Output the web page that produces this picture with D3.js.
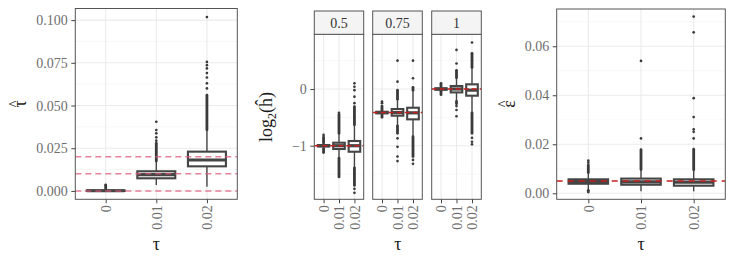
<!DOCTYPE html>
<html>
<head>
<meta charset="utf-8">
<script src="https://cdn.jsdelivr.net/npm/d3@7/dist/d3.min.js"></script>
<style>
  body { margin: 0; background: #fff; }
  text { font-family: "Liberation Serif", "DejaVu Serif", serif; }
</style>
</head>
<body>
<script>
// x categories (true tau)
const tauLevels = ['0', '0.01', '0.02'];

// left panel: tau hat
const tauTrue = [0, 0.01, 0.02];
const tauQ1 = [0, 0.0074, 0.0144];
const tauMed = [0.0001, 0.0095, 0.0181];
const tauQ3 = [0.0003, 0.0115, 0.023];
const tauLo = [0, 0.0035, 0.0025];
const tauHi = [0.0008, 0.0175, 0.0358];
const tauDense = [[[0.0008, 0.0032]], [[0.0175, 0.0279]], [[0.0358, 0.056]]];
const tauOut = [[0.0035], [0.0294, 0.0314, 0.0337, 0.0356, 0.0405],
                [0.060, 0.063, 0.0664, 0.069, 0.0717, 0.0736, 0.0755, 0.1018]];
const tauTicks = [0, 0.025, 0.05, 0.075, 0.1];
const tauTickLabels = ['0.000', '0.025', '0.050', '0.075', '0.100'];
const tauMinor = [0.0125, 0.0375, 0.0625, 0.0875];

// middle panel: log2(h hat), one facet per true h
const hLevels = ['0.5', '0.75', '1'];
const hTrue = [-1, -0.415, 0];
const hQ1 = [[-1.012, -1.058, -1.106], [-0.428, -0.47, -0.535], [-0.012, -0.06, -0.118]];
const hMed = [[-1, -1, -1], [-0.415, -0.415, -0.42], [0, 0, -0.02]];
const hQ3 = [[-0.988, -0.947, -0.917], [-0.402, -0.353, -0.33], [0.012, 0.053, 0.083]];
const hLo = [[-1.05, -1.22, -1.39], [-0.45, -0.65, -0.84], [-0.04, -0.22, -0.42]];
const hHi = [[-0.95, -0.78, -0.63], [-0.38, -0.18, -0.02], [0.04, 0.2, 0.38]];
const hDense = [
  [[[-1.12, -1.05], [-0.95, -0.85]], [[-1.55, -1.22], [-0.78, -0.45]], [[-1.7, -1.39], [-0.63, -0.31]]],
  [[[-0.5, -0.45], [-0.38, -0.3]], [[-0.78, -0.65], [-0.18, -0.02]], [[-1.19, -0.84], [-0.02, 0.03]]],
  [[[-0.1, -0.04], [0.04, 0.1]], [[-0.26, -0.22], [0.2, 0.33]], [[-0.78, -0.42], [0.38, 0.63]]]
];
const hOut = [
  [[-0.81], [-0.42], [-1.76, -1.83, -0.25, -0.135, -0.02, 0.04, 0.1]],
  [[-0.25, -0.22], [0.13, 0.5, -0.87, -1.02, -1.19, -1.27], [0.19, 0.5, -1.25, -1.32]],
  [[], [0.45, 0.69, -0.3, -0.37, -0.48], [0.82, -0.86, -0.93, -0.975]]
];
const hTicks = [-1, 0];
const hTickLabels = ['\u22121', '0'];
const hMinor = [-1.5, -0.5, 0.5];

// right panel: epsilon hat
const epsTrue = 0.005;
const epsQ1 = [0.0039, 0.0035, 0.0031];
const epsMed = [0.0048, 0.0047, 0.0045];
const epsQ3 = [0.0057, 0.006, 0.0057];
const epsLo = [0.0012, 0.0008, 0.0008];
const epsHi = [0.0084, 0.0097, 0.0096];
const epsDense = [[[0.0005, 0.0012], [0.0084, 0.0115]], [[0.0097, 0.0178]], [[0.0096, 0.018]]];
const epsOut = [[0.0125, 0.0133], [0.0224, 0.054],
                [0.0224, 0.0251, 0.0261, 0.0311, 0.0388, 0.0657, 0.0721]];
const epsTicks = [0, 0.02, 0.04, 0.06];
const epsTickLabels = ['0.00', '0.02', '0.04', '0.06'];
const epsMinor = [0.01, 0.03, 0.05, 0.07];

const W = 748, H = 262;
const boxCol = '#454545';
const tickCol = '#6e6e6e';

const svg = d3.select('body').append('svg')
  .attr('width', W).attr('height', H);

function drawPanel(p) {
  const x = d3.scalePoint().domain(tauLevels).range([p.x0, p.x1]).padding(0.6);
  const y = d3.scaleLinear().domain(p.ydom).range([p.y1, p.y0]);
  const bw = x.step() * 0.75;
  const g = svg.append('g');

  // grid
  g.selectAll('.minor').data(p.minor).enter().append('line')
    .attr('x1', p.x0).attr('x2', p.x1)
    .attr('y1', d => y(d)).attr('y2', d => y(d))
    .attr('stroke', '#f3f3f3').attr('stroke-width', 0.6);
  g.selectAll('.major').data(p.ticks).enter().append('line')
    .attr('x1', p.x0).attr('x2', p.x1)
    .attr('y1', d => y(d)).attr('y2', d => y(d))
    .attr('stroke', '#ebebeb').attr('stroke-width', 1.1);
  g.selectAll('.vgrid').data(tauLevels).enter().append('line')
    .attr('x1', d => x(d)).attr('x2', d => x(d))
    .attr('y1', p.y0).attr('y2', p.y1)
    .attr('stroke', '#ebebeb').attr('stroke-width', 1.1);

  // boxes
  tauLevels.forEach((lev, i) => {
    const cx = x(lev);
    const b = g.append('g');
    b.append('line')
      .attr('x1', cx).attr('x2', cx)
      .attr('y1', y(p.lo[i])).attr('y2', y(p.hi[i]))
      .attr('stroke', boxCol).attr('stroke-width', 1.4);
    b.selectAll('.dense').data(p.dense[i]).enter().append('line')
      .attr('x1', cx).attr('x2', cx)
      .attr('y1', d => y(d[0])).attr('y2', d => y(d[1]))
      .attr('stroke', '#3a3a3a').attr('stroke-width', 2.8)
      .attr('stroke-linecap', 'round');
    b.selectAll('circle').data(p.out[i]).enter().append('circle')
      .attr('cx', cx).attr('cy', d => y(d)).attr('r', 1.35)
      .attr('fill', '#3a3a3a');
    const top = y(p.q3[i]), bot = y(p.q1[i]);
    b.append('rect')
      .attr('x', cx - bw / 2).attr('width', bw)
      .attr('y', top).attr('height', Math.max(0.1, bot - top))
      .attr('fill', '#fff').attr('stroke', boxCol).attr('stroke-width', 2.1);
    b.append('line')
      .attr('x1', cx - bw / 2).attr('x2', cx + bw / 2)
      .attr('y1', y(p.med[i])).attr('y2', y(p.med[i]))
      .attr('stroke', boxCol).attr('stroke-width', 3.2);
  });

  // reference lines
  g.selectAll('.ref').data(p.ref).enter().append('line')
    .attr('x1', p.x0).attr('x2', p.x1)
    .attr('y1', d => y(d)).attr('y2', d => y(d))
    .attr('stroke', p.refCol).attr('stroke-opacity', p.refOp)
    .attr('stroke-width', 1.5).attr('stroke-dasharray', p.dash);

  // border
  g.append('rect')
    .attr('x', p.x0).attr('y', p.y0)
    .attr('width', p.x1 - p.x0).attr('height', p.y1 - p.y0)
    .attr('fill', 'none').attr('stroke', '#555').attr('stroke-width', 1);

  // x axis
  const xa = g.append('g').attr('transform', `translate(0,${p.y1})`)
    .call(d3.axisBottom(x).tickSize(4).tickSizeOuter(0));
  xa.select('.domain').remove();
  xa.selectAll('.tick line').attr('stroke', '#444');
  xa.selectAll('.tick text')
    .attr('fill', tickCol).attr('font-size', 14)
    .attr('text-anchor', 'end')
    .attr('transform', 'rotate(-90)')
    .attr('x', -6).attr('y', 0).attr('dy', '0.35em');

  if (p.drawY) {
    const ya = g.append('g').attr('transform', `translate(${p.x0},0)`)
      .call(d3.axisLeft(y).tickValues(p.ticks)
        .tickFormat((d, k) => p.tickLabels[k]).tickSize(4).tickSizeOuter(0));
    ya.select('.domain').remove();
    ya.selectAll('.tick line').attr('stroke', '#444');
    ya.selectAll('.tick text')
      .attr('fill', tickCol).attr('font-size', 14)
      .attr('x', -7.5);
  }
  return { x, y };
}

// left
drawPanel({
  x0: 75.3, x1: 237.3, y0: 8.5, y1: 199.3, ydom: [-0.0049, 0.1068],
  q1: tauQ1, med: tauMed, q3: tauQ3, lo: tauLo, hi: tauHi,
  dense: tauDense, out: tauOut, ticks: tauTicks, tickLabels: tauTickLabels,
  minor: tauMinor, ref: tauTrue, refCol: '#e0557a', refOp: 0.75,
  dash: '6,4', drawY: true
});

// middle facets
const facetX = [[314.3, 363.7], [372.7, 422.3], [431.7, 481.3]];
hLevels.forEach((hl, f) => {
  drawPanel({
    x0: facetX[f][0], x1: facetX[f][1], y0: 34.3, y1: 199.3, ydom: [-1.945, 0.965],
    q1: hQ1[f], med: hMed[f], q3: hQ3[f], lo: hLo[f], hi: hHi[f],
    dense: hDense[f], out: hOut[f], ticks: hTicks, tickLabels: hTickLabels,
    minor: hMinor, ref: [hTrue[f]], refCol: '#c81e1e', refOp: 1,
    dash: '5,3', drawY: f === 0
  });
  svg.append('rect')
    .attr('x', facetX[f][0]).attr('y', 11)
    .attr('width', facetX[f][1] - facetX[f][0]).attr('height', 23.3)
    .attr('fill', '#f4f4f4').attr('stroke', '#555').attr('stroke-width', 1);
  svg.append('text')
    .attr('x', (facetX[f][0] + facetX[f][1]) / 2).attr('y', 27.5)
    .attr('text-anchor', 'middle').attr('font-size', 14)
    .attr('fill', '#333').text(hl);
});

// right
drawPanel({
  x0: 556.7, x1: 725.3, y0: 9, y1: 199.3, ydom: [-0.00245, 0.0752],
  q1: epsQ1, med: epsMed, q3: epsQ3, lo: epsLo, hi: epsHi,
  dense: epsDense, out: epsOut, ticks: epsTicks, tickLabels: epsTickLabels,
  minor: epsMinor, ref: [epsTrue], refCol: '#c81e1e', refOp: 1,
  dash: '6,5', drawY: true
});

// axis titles
[156.3, 397.8, 641].forEach(cx => {
  svg.append('text').attr('x', cx).attr('y', 250)
    .attr('text-anchor', 'middle').attr('font-size', 18)
    .attr('fill', '#1a1a1a').text('\u03c4');
});

function hatTitle(cx, cy, sym) {
  const t = svg.append('g').attr('transform', `translate(${cx},${cy}) rotate(-90)`);
  t.append('text').attr('text-anchor', 'middle').attr('font-size', 18)
    .attr('fill', '#1a1a1a').text(sym);
  t.append('text').attr('text-anchor', 'middle').attr('y', -7)
    .attr('font-size', 14).attr('fill', '#1a1a1a').text('^');
}
hatTitle(26, 104, '\u03c4');
hatTitle(515, 104, '\u03b5');

const lt = svg.append('text')
  .attr('transform', 'translate(272,117) rotate(-90)')
  .attr('text-anchor', 'middle').attr('font-size', 18).attr('fill', '#1a1a1a');
lt.append('tspan').text('log');
lt.append('tspan').attr('font-size', 12).attr('dy', 4).text('2');
lt.append('tspan').attr('dy', -4).text('(\u0125)');
</script>
</body>
</html>
